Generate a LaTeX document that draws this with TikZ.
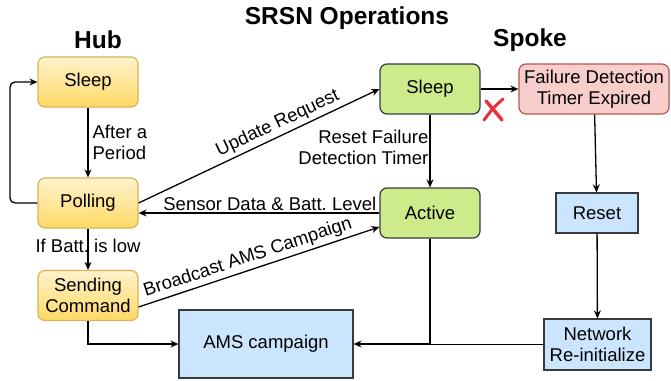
\documentclass[tikz,border=0pt]{standalone}
\usepackage{fontspec}
\setmainfont{Liberation Sans}
\usetikzlibrary{arrows.meta,calc,shadings}
\frenchspacing
\begin{document}
\begin{tikzpicture}[x=1pt,y=-1pt,
  font=\fontsize{18.5}{21}\selectfont,
  box/.style={draw=#1,line width=1.2pt,align=center,inner sep=2pt},
  hub/.style={box=hubline,rounded corners=7pt,top color=hubtop,bottom color=hubbot,minimum width=100pt,minimum height=50pt},
  green/.style={box=darkline,rounded corners=7pt,fill=greenfill,minimum width=100pt,minimum height=50pt},
  redbox/.style={box=redline,rounded corners=7pt,fill=redfill,minimum width=150pt,minimum height=50pt},
  blue/.style={box=darkline,fill=bluefill},
  arr/.style={-{Stealth[length=8pt,width=7pt]},line width=1.3pt},
  ln/.style={line width=1.3pt},
  lbl/.style={align=left,inner sep=2pt},
  ttl/.style={font=\fontsize{24.5}{28}\selectfont\bfseries}]
\definecolor{hubtop}{HTML}{FFF2CC}
\definecolor{hubbot}{HTML}{FFD966}
\definecolor{hubline}{HTML}{D6B656}
\definecolor{greenfill}{HTML}{CDEB8B}
\definecolor{darkline}{HTML}{36393D}
\definecolor{redfill}{HTML}{F8CECC}
\definecolor{redline}{HTML}{B85450}
\definecolor{bluefill}{HTML}{CCE5FF}
\definecolor{xred}{HTML}{E8313A}
\useasboundingbox (0,0) rectangle (671,380);

\node[ttl] (title) at (347,18) {SRSN Operations};
\node[ttl] (hubt) at (98,40) {Hub};
\node[ttl] (spoket) at (530,40) {Spoke};

\node[hub] (hsleep) at (88,82) {Sleep};
\node[hub] (poll) at (88,203) {Polling};
\node[hub] (send) at (88,295.5) {Sending\\Command};

\node[green] (ssleep) at (430,89) {Sleep};
\node[green] (active) at (430,213) {Active};
\node[redbox] (fdte) at (594,89) {Failure Detection\\Timer Expired};
\node[blue,minimum width=82pt,minimum height=40pt] (reset) at (597,213) {Reset};
\node[blue,minimum width=107pt,minimum height=51pt] (net) at (597.5,344.5) {Network\\Re-initialize};
\node[blue,minimum width=174pt,minimum height=68pt] (ams) at (266,344) {AMS campaign};

% hub flow
\draw[arr] (hsleep) -- node[lbl,right,xshift=2pt] (lperiod) {After a\\Period} (poll);
\draw[arr,rounded corners=5pt] (poll.west) -- (10,203) -- (10,82) -- (hsleep.west);
\draw[arr] (poll) -- node[lbl,pos=0.42] (lbatt) {If Batt. is low} (send);
\draw[arr] (send.south) |- (ams.west);

% hub <-> spoke
\draw[arr] (poll.east) -- node[sloped,above,pos=0.6,inner sep=3pt] (lupd) {Update Request} (ssleep.west);
\draw[arr] (active.west) -- node[above,pos=0.455,inner sep=2pt] (lsens) {Sensor Data \& Batt. Level} (active.west -| poll.east);
\draw[arr] ($(send.east)+(0,11.5)$) -- node[sloped,above,pos=0.47,inner sep=3pt] (lbro) {Broadcast AMS Campaign} ($(active.west)+(0,14)$);

% spoke flow
\draw[arr] (ssleep) -- node[lbl,left,align=right,pos=0.45,xshift=1pt] (lreset) {Reset Failure\\Detection Timer} (active);
\draw[arr] (ssleep.east) -- (fdte.west);
\draw[arr] (fdte) -- (reset);
\draw[arr] (reset) -- (net);
\draw[arr] (active.south) |- (ams.east);
\draw[ln] (net.west) -- (active.south |- net.west);

% red cross
\coordinate (xc) at (493,109);
\draw[xred,line width=3.5pt,line cap=round] ($(xc)+(-7,-8)$) .. controls ($(xc)+(0,0)$) .. ($(xc)+(9,11)$);
\draw[xred,line width=3pt,line cap=round] ($(xc)+(10,-10)$) .. controls ($(xc)+(0,-1)$) .. ($(xc)+(-9,11)$);
\end{tikzpicture}
\end{document}
